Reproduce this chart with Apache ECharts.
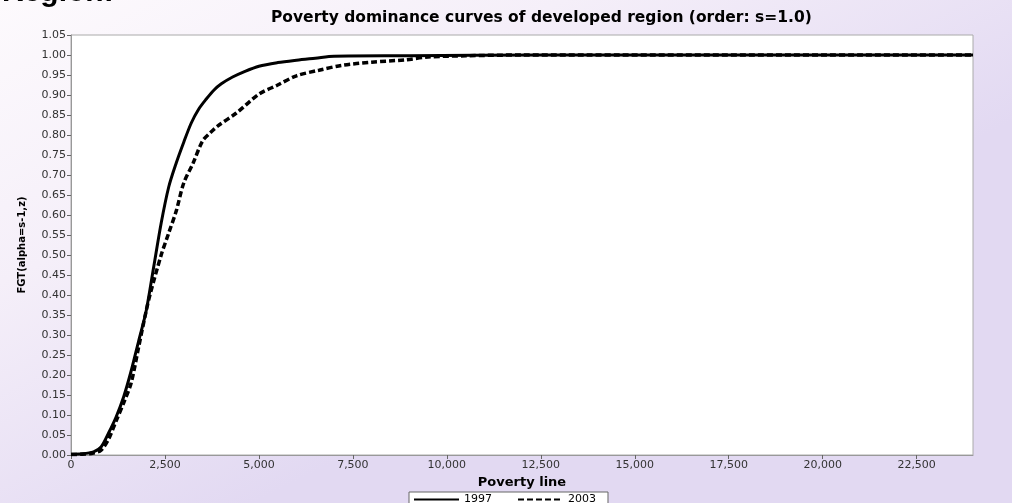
<!DOCTYPE html>
<html>
<head>
<meta charset="utf-8">
<script src="https://cdn.jsdelivr.net/npm/echarts@6/dist/echarts.min.js"></script>
<style>
  html, body { margin: 0; padding: 0; }
  #chart { width: 1012px; height: 503px; }
</style>
</head>
<body>
<div id="chart"></div>
<script>
// Poverty line values (x) and FGT values (y) for each year
const povertyLine1997 = [0, 300, 600, 800, 1000, 1200, 1400, 1600, 1800, 2000, 2200, 2400, 2600, 2800, 3000, 3200, 3400, 3600, 3800, 4000, 4300, 4600, 5000, 5500, 6000, 6500, 7000, 9000, 12500, 24000];
const fgt1997 = [0.002, 0.003, 0.008, 0.02, 0.055, 0.095, 0.145, 0.21, 0.285, 0.36, 0.47, 0.58, 0.67, 0.73, 0.782, 0.83, 0.865, 0.89, 0.912, 0.928, 0.945, 0.958, 0.972, 0.981, 0.987, 0.992, 0.997, 0.998, 1.0, 1.0];

const povertyLine2003 = [0, 300, 600, 800, 1000, 1200, 1400, 1600, 1800, 2000, 2100, 2400, 2600, 2800, 3000, 3250, 3500, 3700, 3900, 4400, 5000, 5500, 6000, 6600, 7200, 8000, 8900, 9500, 10500, 12000, 24000];
const fgt2003 = [0.001, 0.002, 0.005, 0.012, 0.04, 0.085, 0.13, 0.18, 0.27, 0.36, 0.40, 0.50, 0.555, 0.61, 0.68, 0.73, 0.785, 0.805, 0.822, 0.855, 0.902, 0.925, 0.948, 0.962, 0.974, 0.982, 0.988, 0.995, 0.998, 1.0, 1.0];

const seriesNames = ['1997', '2003'];
const xTicks = [0, 2500, 5000, 7500, 10000, 12500, 15000, 17500, 20000, 22500];

const pairs = (xs, ys) => xs.map((x, i) => [x, ys[i]]);

const chart = echarts.init(document.getElementById('chart'), null, { renderer: 'canvas' });

const axisFont = { fontFamily: 'DejaVu Sans', fontSize: 11, color: '#333' };

chart.setOption({
  animation: false,
  backgroundColor: {
    type: 'linear', x: 0, y: 0, x2: 0.25, y2: 1,
    colorStops: [
      { offset: 0, color: '#fdfafd' },
      { offset: 0.45, color: '#f5eff9' },
      { offset: 1, color: '#e2d9f2' }
    ]
  },
  title: {
    text: 'Poverty dominance curves of developed region (order: s=1.0)',
    left: 266,
    top: 5,
    textStyle: { fontFamily: 'DejaVu Sans', fontSize: 15.5, fontWeight: 'bold', color: '#000' }
  },
  graphic: [{
    type: 'text',
    left: 2,
    top: -22,
    style: { text: 'Region:', font: 'bold 30px "Liberation Sans"', fill: '#000' }
  }],
  legend: {
    data: seriesNames,
    left: 409,
    top: 492,
    backgroundColor: '#fff',
    borderColor: '#666',
    borderWidth: 1,
    borderRadius: 0,
    padding: [2, 12, 2, 4],
    itemWidth: 45,
    itemHeight: 8,
    itemGap: 25,
    itemStyle: { opacity: 0 },
    textStyle: { fontFamily: 'DejaVu Sans', fontSize: 11, color: '#000' }
  },
  grid: {
    left: 71, right: 39, top: 35, bottom: 48,
    show: true, backgroundColor: '#fff', borderColor: '#aaa', borderWidth: 1
  },
  xAxis: {
    type: 'value',
    min: 0, max: 24000, interval: 2500,
    name: 'Poverty line',
    nameLocation: 'middle',
    nameGap: 21,
    nameTextStyle: { fontFamily: 'DejaVu Sans', fontSize: 13, fontWeight: 'bold', color: '#000' },
    axisLine: { lineStyle: { color: '#999' } },
    axisTick: { show: true, length: 4, customValues: xTicks, lineStyle: { color: '#666' } },
    axisLabel: {
      ...axisFont,
      customValues: xTicks,
      margin: 5,
      formatter: v => v.toLocaleString('en-US')
    },
    splitLine: { show: false }
  },
  yAxis: {
    type: 'value',
    min: 0, max: 1.05, interval: 0.05,
    name: 'FGT(alpha=s-1,z)',
    nameLocation: 'middle',
    nameGap: 44,
    nameTextStyle: { fontFamily: 'DejaVu Sans', fontSize: 10, fontWeight: 'bold', color: '#000' },
    axisLine: { show: true, lineStyle: { color: '#999' } },
    axisTick: { show: true, length: 4, lineStyle: { color: '#666' } },
    axisLabel: { ...axisFont, margin: 5, formatter: v => v.toFixed(2) },
    splitLine: { show: false }
  },
  series: [
    {
      name: seriesNames[0],
      type: 'line',
      data: pairs(povertyLine1997, fgt1997),
      smooth: 0.3,
      symbol: 'none',
      lineStyle: { color: '#000', width: 3, type: 'solid' },
      itemStyle: { color: '#000' }
    },
    {
      name: seriesNames[1],
      type: 'line',
      data: pairs(povertyLine2003, fgt2003),
      smooth: 0.3,
      symbol: 'none',
      lineStyle: { color: '#000', width: 3.5, type: [6, 3] },
      itemStyle: { color: '#000' }
    }
  ]
});
</script>
</body>
</html>
